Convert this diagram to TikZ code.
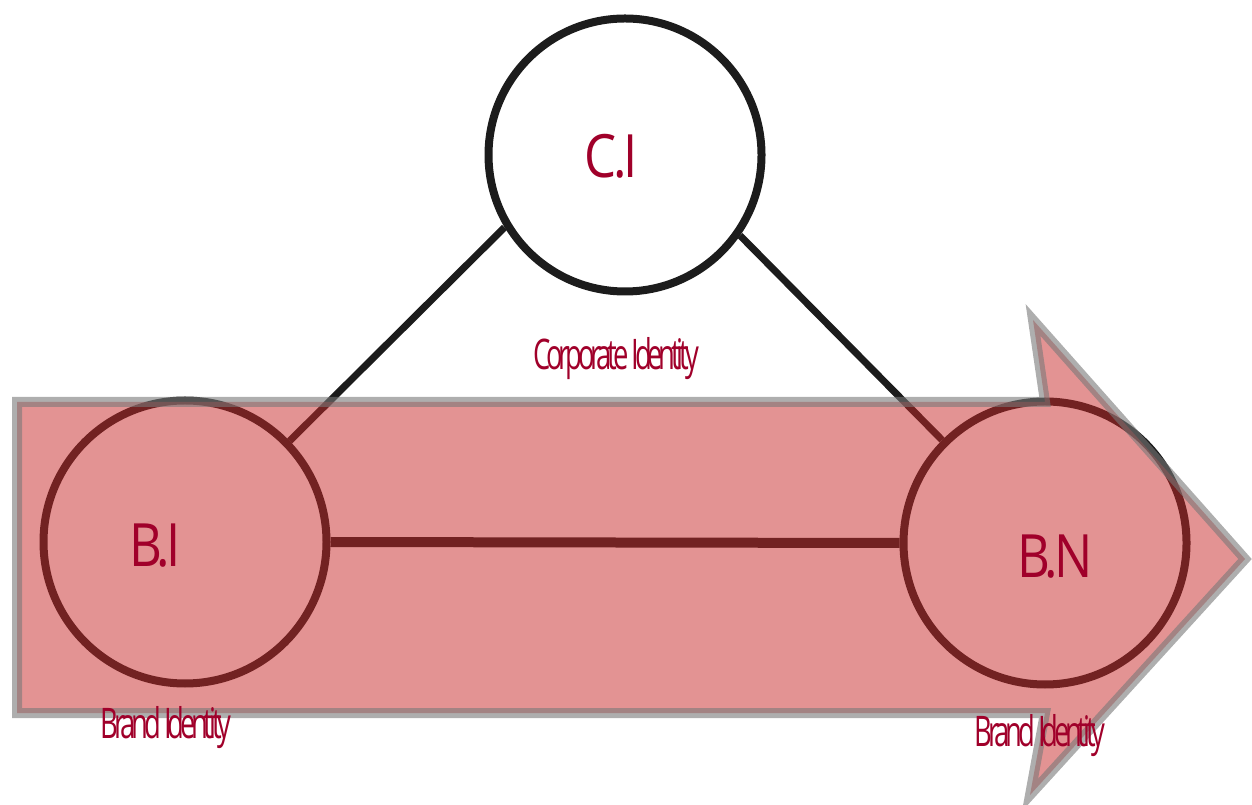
\documentclass[tikz,border=0pt]{standalone}
\usepackage{fontspec}
\setmainfont{Open Sans}
\newfontfamily\sigleFont[FakeStretch=0.85,LetterSpace=-6]{Open Sans}
\newfontfamily\legendeFont[FakeStretch=0.65,LetterSpace=-10]{Open Sans}
\usetikzlibrary{positioning}
\definecolor{figRouge}{RGB}{160,0,42}
\definecolor{figRose}{RGB}{200,40,40}
\definecolor{figGris}{RGB}{120,120,120}
\definecolor{figTrait}{RGB}{28,28,28}

\begin{document}
\begin{tikzpicture}[
  x=1cm, y=1cm,
  cercle/.style={circle, draw=figTrait, line width=0.16cm, inner sep=0pt},
  lien/.style={draw=figTrait, line width=0.14cm},
  fleche/.style={fill=figRose, fill opacity=0.5, draw=figGris, draw opacity=0.6,
                 line width=0.2cm, line join=miter},
  sigle/.style={font=\sigleFont\fontsize{34}{36}\selectfont, text=figRouge, anchor=base},
  legende/.style={font=\legendeFont\fontsize{24}{26}\selectfont, text=figRouge, anchor=base}
]
\useasboundingbox (0,0) rectangle (25.04,16.08);

\node[cercle, fill=white, minimum size=5.46cm] (ci) at (12.5,12.98) {};
\node[cercle, minimum size=5.66cm] (bi) at (3.7,5.24) {};
\node[cercle, minimum size=5.66cm] (bn) at (20.9,5.22) {};

\draw[lien] (ci.211) -- (bi.44);
\draw[lien] (ci.325) -- (bn.135);
\draw[lien, line width=0.2cm] (bi.east) -- (bn.west);

% grande fleche par-dessus
\draw[fleche] (0.34,8.04) -- (20.9,8.04) -- (20.66,9.68) -- (24.9,4.9)
      -- (20.6,0.18) -- (20.9,1.82) -- (0.34,1.82) -- cycle;

\node[sigle] (ciTexte) at (12.22,12.52) {C.I};
\node[sigle] (biTexte) at (3.1,4.74) {B.I};
\node[sigle] (bnTexte) at (21.1,4.52) {B.N};

\node[legende] (ciLegende) at (12.32,8.68) {Corporate Identity};
\node[legende] (biLegende) at (3.32,1.32) {Brand Identity};
\node[legende] (bnLegende) at (20.8,1.16) {Brand Identity};
\end{tikzpicture}
\end{document}
